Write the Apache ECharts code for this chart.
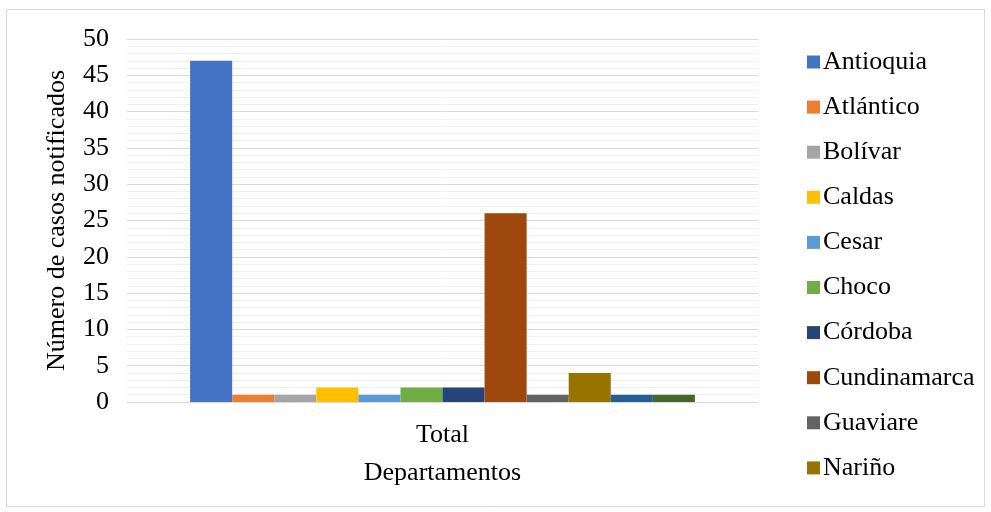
<!DOCTYPE html>
<html>
<head>
<meta charset="utf-8">
<script src="https://cdn.jsdelivr.net/npm/echarts@6/dist/echarts.min.js"></script>
<style>
  html, body { margin: 0; padding: 0; background: #fff; }
  #main { width: 991px; height: 512px; }
</style>
</head>
<body>
<div id="main"></div>
<script>
// departamentos (las dos últimas no aparecen en la leyenda)
var departamentos = ['Antioquia', 'Atlántico', 'Bolívar', 'Caldas', 'Cesar', 'Choco',
    'Córdoba', 'Cundinamarca', 'Guaviare', 'Nariño', 'Santander', 'Valle del Cauca'];
var casos = [47, 1, 1, 2, 1, 2, 2, 26, 1, 4, 1, 1];
var colores = ['#4472C4', '#ED7D31', '#A5A5A5', '#FFC000', '#5B9BD5', '#70AD47',
    '#264478', '#9E480E', '#636363', '#997300', '#255E91', '#43682B'];
var categorias = ['Total'];
var leyenda = departamentos.slice(0, 10);

var myChart = echarts.init(document.getElementById('main'));
var fuente = '"Liberation Serif", "Times New Roman", serif';

var series = departamentos.map(function (d, i) {
    return {
        name: d,
        type: 'bar',
        barGap: 0,
        barCategoryGap: '20%',
        data: [casos[i]],
        itemStyle: { color: colores[i] }
    };
});

var option = {
    animation: false,
    textStyle: { fontFamily: fuente },
    graphic: [{
        type: 'rect',
        shape: { x: 6.5, y: 9.5, width: 978, height: 497 },
        style: { fill: 'none', stroke: '#d9d9d9', lineWidth: 1 },
        silent: true
    }],
    grid: { left: 127, right: 233, top: 39, bottom: 110 },
    legend: {
        orient: 'vertical',
        left: 802,
        top: 44,
        data: leyenda,
        itemWidth: 13,
        itemHeight: 13,
        itemGap: 19.1,
        icon: 'rect',
        textStyle: { fontFamily: fuente, fontSize: 26, color: '#000', padding: [0, 0, 0, -2] }
    },
    xAxis: {
        type: 'category',
        data: categorias,
        name: 'Departamentos',
        nameLocation: 'middle',
        nameGap: 58,
        nameTextStyle: { fontFamily: fuente, fontSize: 26, color: '#000' },
        axisLine: { lineStyle: { color: '#d9d9d9', width: 1 } },
        axisTick: { show: false },
        axisLabel: { fontFamily: fuente, fontSize: 26, color: '#000', margin: 20 }
    },
    yAxis: {
        type: 'value',
        min: 0,
        max: 50,
        interval: 5,
        name: 'Número de casos notificados',
        nameLocation: 'middle',
        nameGap: 57,
        nameTextStyle: { fontFamily: fuente, fontSize: 26, color: '#000' },
        axisLine: { show: false },
        axisTick: { show: false },
        axisLabel: { fontFamily: fuente, fontSize: 26, color: '#000', margin: 18 },
        splitLine: { lineStyle: { color: '#d9d9d9', width: 1 } },
        minorTick: { show: false, splitNumber: 5 },
        minorSplitLine: { show: true, lineStyle: { color: '#f0f0f0', width: 1 } }
    },
    series: series
};
myChart.setOption(option);
</script>
</body>
</html>
